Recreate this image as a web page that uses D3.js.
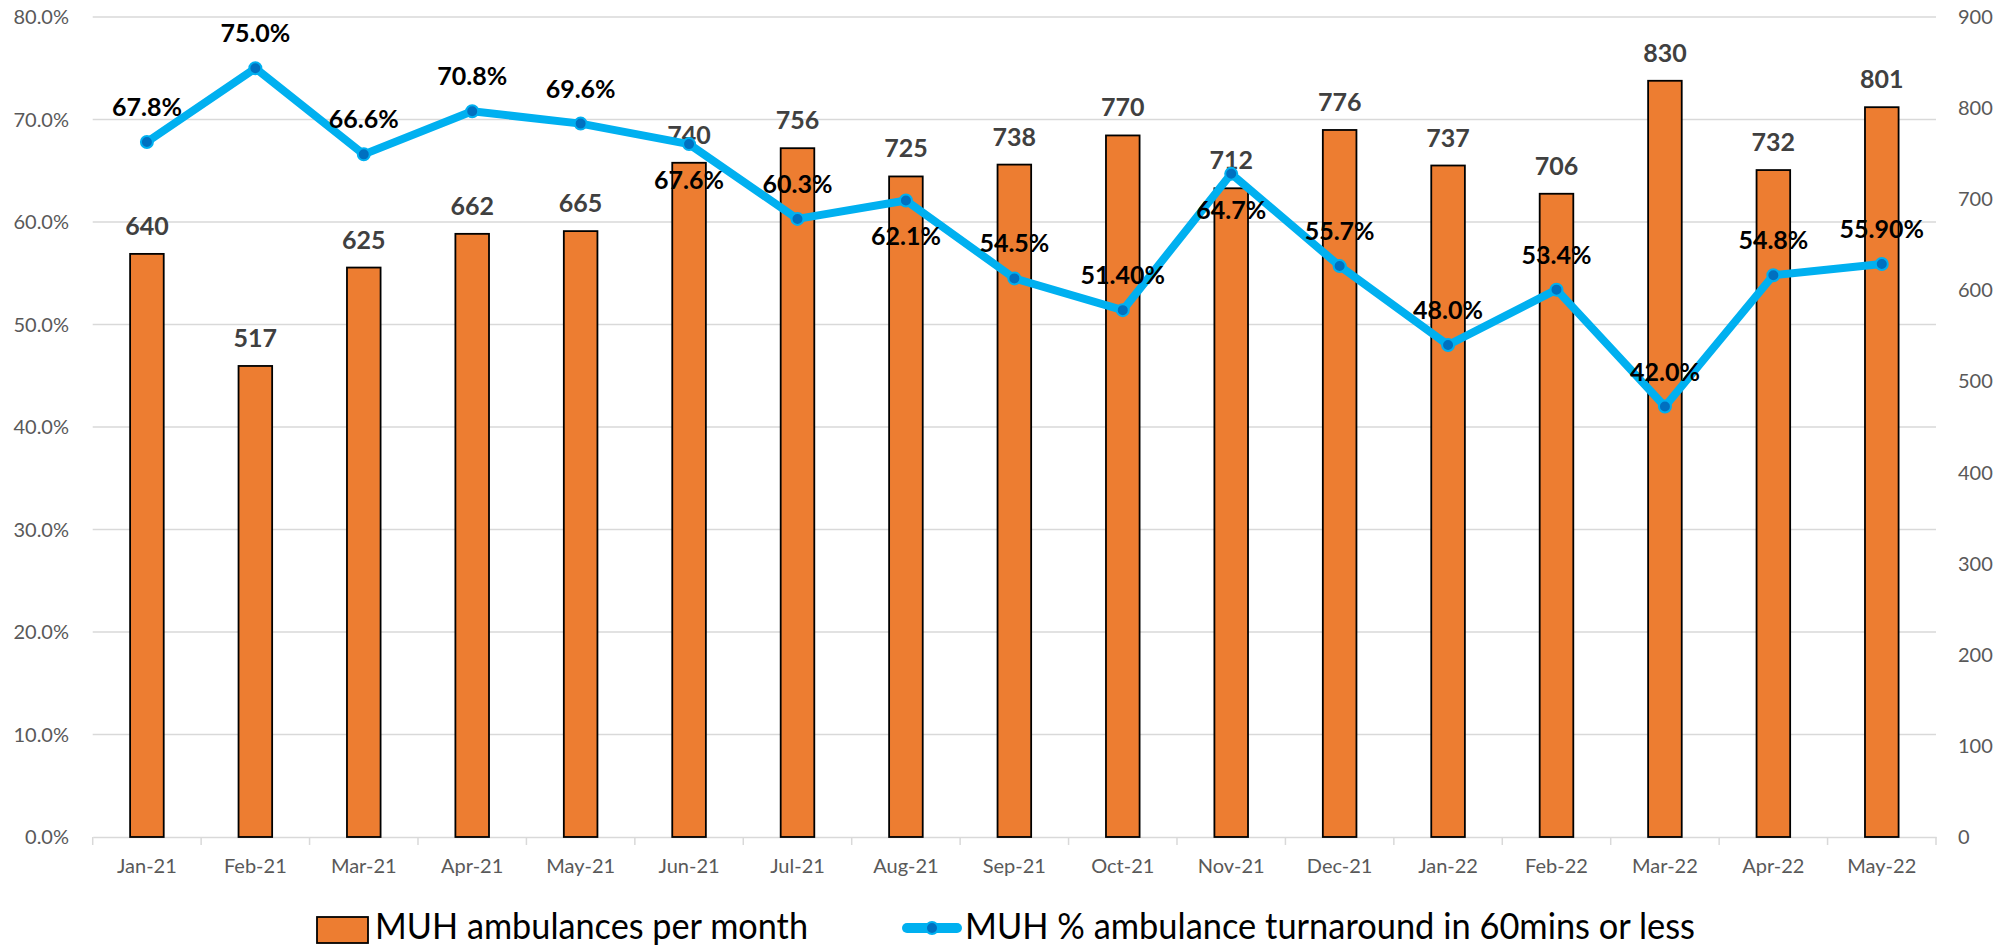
<!DOCTYPE html>
<html>
<head>
<meta charset="utf-8">
<script src="https://cdn.jsdelivr.net/npm/d3@7"></script>
<style>
  html, body { margin: 0; padding: 0; background: #fff; }
  svg { display: block; font-family: Lato, "Open Sans", sans-serif; }
</style>
</head>
<body>
<svg id="chart" width="2011" height="948"></svg>
<script>
const months = ["Jan-21","Feb-21","Mar-21","Apr-21","May-21","Jun-21","Jul-21","Aug-21","Sep-21","Oct-21","Nov-21","Dec-21","Jan-22","Feb-22","Mar-22","Apr-22","May-22"];
const ambulances = [640,517,625,662,665,740,756,725,738,770,712,776,737,706,830,732,801];
const turnaround = [0.678,0.750,0.666,0.708,0.696,0.676,0.603,0.621,0.545,0.514,0.647,0.557,0.480,0.534,0.420,0.548,0.559];
const turnaroundLabels = ["67.8%","75.0%","66.6%","70.8%","69.6%","67.6%","60.3%","62.1%","54.5%","51.40%","64.7%","55.7%","48.0%","53.4%","42.0%","54.8%","55.90%"];
const turnaroundLabelPos = ["above","above","above","above","above","below","above","below","above","above","below","above","above","above","above","above","above"];
const leftTicks = [0,0.1,0.2,0.3,0.4,0.5,0.6,0.7,0.8];
const rightTicks = [0,100,200,300,400,500,600,700,800,900];
const seriesNames = ["MUH ambulances per month","MUH % ambulance turnaround in 60mins or less"];

const svg = d3.select("#chart");
const plot = {left: 92.7, right: 1936, top: 17, bottom: 837};

const x = d3.scaleBand().domain(months).range([plot.left, plot.right]).padding(0);
const yL = d3.scaleLinear().domain([0, 0.8]).range([plot.bottom, plot.top]);
const yR = d3.scaleLinear().domain([0, 900]).range([plot.bottom, plot.top]);
const barW = x.bandwidth() * 0.31;
const cx = d => x(d) + x.bandwidth() / 2;

// gridlines
svg.append("g").selectAll("line").data(leftTicks.filter(t => t > 0)).join("line")
  .attr("x1", plot.left).attr("x2", plot.right)
  .attr("y1", d => yL(d)).attr("y2", d => yL(d))
  .attr("stroke", "#d9d9d9").attr("stroke-width", 1.5);

// left axis labels
const fmtPct = d3.format(".1%");
svg.append("g").selectAll("text").data(leftTicks).join("text")
  .attr("x", 69).attr("y", d => yL(d)).attr("dy", "0.35em")
  .attr("text-anchor", "end").attr("font-size", 20).attr("fill", "#595959")
  .text(d => fmtPct(d));

// right axis labels
svg.append("g").selectAll("text").data(rightTicks).join("text")
  .attr("x", 1958).attr("y", d => yR(d)).attr("dy", "0.35em")
  .attr("text-anchor", "start").attr("font-size", 20).attr("fill", "#595959")
  .text(d => d);

// bottom axis
const xAxis = d3.axisBottom(x).tickSize(0).tickPadding(22);
const gx = svg.append("g").attr("transform", `translate(0,${plot.bottom})`).call(xAxis);
gx.select(".domain").attr("stroke", "#d9d9d9").attr("stroke-width", 1.5);
gx.selectAll("text").attr("font-size", 20).attr("fill", "#595959").attr("font-family", "Lato, sans-serif");
const bounds = months.map(m => x(m)).concat([plot.right]);
svg.append("g").selectAll("line").data(bounds).join("line")
  .attr("x1", d => d).attr("x2", d => d)
  .attr("y1", plot.bottom).attr("y2", plot.bottom + 8)
  .attr("stroke", "#d9d9d9").attr("stroke-width", 1.5);

// bars
svg.append("g").selectAll("rect").data(months).join("rect")
  .attr("x", d => cx(d) - barW / 2)
  .attr("width", barW)
  .attr("y", (d, i) => yR(ambulances[i]))
  .attr("height", (d, i) => plot.bottom - yR(ambulances[i]))
  .attr("fill", "#ED7D31").attr("stroke", "#000").attr("stroke-width", 1.8);

// bar labels
svg.append("g").selectAll("text").data(months).join("text")
  .attr("x", d => cx(d))
  .attr("y", (d, i) => yR(ambulances[i]) - 19)
  .attr("text-anchor", "middle").attr("font-size", 25).attr("font-weight", "bold")
  .attr("fill", "#404040")
  .text((d, i) => ambulances[i]);

// line
const line = d3.line().x((d, i) => cx(months[i])).y(d => yL(d));
svg.append("path").datum(turnaround)
  .attr("d", line).attr("fill", "none")
  .attr("stroke", "#00B0F0").attr("stroke-width", 8)
  .attr("stroke-linejoin", "round").attr("stroke-linecap", "round");

svg.append("g").selectAll("circle").data(turnaround).join("circle")
  .attr("cx", (d, i) => cx(months[i])).attr("cy", d => yL(d))
  .attr("r", 6).attr("fill", "#0070C0").attr("stroke", "#00B0F0").attr("stroke-width", 2);

// line labels
svg.append("g").selectAll("text").data(turnaround).join("text")
  .attr("x", (d, i) => cx(months[i]))
  .attr("y", (d, i) => yL(d) + (turnaroundLabelPos[i] === "above" ? -26 : 45))
  .attr("text-anchor", "middle").attr("font-size", 25).attr("font-weight", "bold")
  .attr("fill", "#000")
  .text((d, i) => turnaroundLabels[i]);

// legend
const lg = svg.append("g");
lg.append("rect").attr("x", 317).attr("y", 917).attr("width", 51).attr("height", 26)
  .attr("fill", "#ED7D31").attr("stroke", "#000").attr("stroke-width", 1.8);
lg.append("text").attr("x", 375).attr("y", 939).attr("font-size", 36).attr("fill", "#000")
  .attr("textLength", 433).attr("lengthAdjust", "spacingAndGlyphs")
  .text(seriesNames[0]);
lg.append("line").attr("x1", 907).attr("x2", 957).attr("y1", 928).attr("y2", 928)
  .attr("stroke", "#00B0F0").attr("stroke-width", 10).attr("stroke-linecap", "round");
lg.append("circle").attr("cx", 932).attr("cy", 928).attr("r", 6)
  .attr("fill", "#0070C0").attr("stroke", "#00B0F0").attr("stroke-width", 2);
lg.append("text").attr("x", 965).attr("y", 939).attr("font-size", 36).attr("fill", "#000")
  .attr("textLength", 730).attr("lengthAdjust", "spacingAndGlyphs")
  .text(seriesNames[1]);
</script>
</body>
</html>
